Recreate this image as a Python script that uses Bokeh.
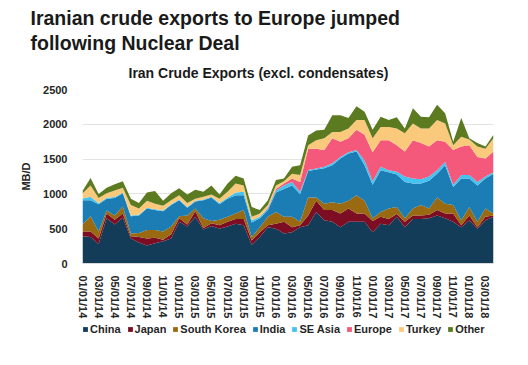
from bokeh.plotting import figure
from bokeh.layouts import column
from bokeh.models import Range1d, FixedTicker, Title, Legend, LegendItem, ColumnDataSource
from bokeh.embed import file_html
from bokeh.resources import INLINE

MONTHS = [
    "01/01/14", "02/01/14", "03/01/14", "04/01/14", "05/01/14", "06/01/14",
    "07/01/14", "08/01/14", "09/01/14", "10/01/14", "11/01/14", "12/01/14",
    "01/01/15", "02/01/15", "03/01/15", "04/01/15", "05/01/15", "06/01/15",
    "07/01/15", "08/01/15", "09/01/15", "10/01/15", "11/01/15", "12/01/15",
    "01/01/16", "02/01/16", "03/01/16", "04/01/16", "05/01/16", "06/01/16",
    "07/01/16", "08/01/16", "09/01/16", "10/01/16", "11/01/16", "12/01/16",
    "01/01/17", "02/01/17", "03/01/17", "04/01/17", "05/01/17", "06/01/17",
    "07/01/17", "08/01/17", "09/01/17", "10/01/17", "11/01/17", "12/01/17",
    "01/01/18", "02/01/18", "03/01/18", "04/01/18",
]

CHINA = [390, 380, 280, 650, 560, 660, 360, 300, 260, 290, 320, 360,
         600, 530, 670, 490, 540, 500, 530, 570, 550, 270, 380, 520,
         500, 430, 450, 520, 550, 740, 620, 600, 520, 600, 600, 600,
         450, 570, 550, 670, 520, 640, 640, 650, 690, 650, 600, 520,
         620, 500, 620, 670]
JAPAN = [70, 80, 80, 70, 70, 60, 30, 80, 100, 80, 20, 60,
         50, 30, 80, 20, 40, 50, 70, 70, 90, 60, 70, 30,
         70, 170, 70, 30, 140, 160, 150, 170, 200, 190, 120, 120,
         160, 100, 90, 40, 80, 50, 50, 50, 80, 70, 120, 30,
         70, 20, 50, 20]
SOUTH_KOREA = [100, 220, 100, 40, 60, 100, 40, 60, 120, 110, 120, 110,
               30, 130, 40, 140, 30, 80, 70, 80, 130, 50, 70, 120,
               170, 70, 150, 50, 260, 50, 90, 110, 140, 110, 260, 180,
               40, 70, 150, 100, 50, 100, 150, 90, 180, 140, 120, 70,
               120, 80, 120, 30]
INDIA = [350, 230, 390, 170, 250, 190, 250, 250, 310, 290, 290, 310,
         230, 110, 100, 260, 340, 220, 260, 260, 210, 210, 130, 100,
         280, 400, 450, 400, 380, 400, 510, 530, 650, 680, 630, 510,
         480, 600, 520, 470, 520, 360, 310, 400, 340, 550, 260, 600,
         410, 520, 430, 570]
SE_ASIA = [25, 50, 15, 15, 15, 10, 10, 10, 10, 10, 10, 10,
           10, 10, 10, 10, 10, 20, 20, 40, 50, 30, 20, 20,
           30, 50, 50, 30, 15, 15, 20, 30, 20, 20, 20, 70,
           50, 50, 30, 40, 80, 70, 60, 60, 50, 50, 30, 50,
           50, 50, 30, 20]
EUROPE = [0, 0, 0, 0, 0, 0, 0, 0, 0, 0, 0, 0,
          0, 0, 0, 0, 0, 0, 0, 0, 0, 0, 0, 10,
          20, 30, 50, 140, 305, 285, 240, 360, 220, 200, 290, 370,
          420, 380, 430, 380, 360, 550, 520, 430, 430, 290, 500, 410,
          430, 360, 260, 300]
TURKEY = [70, 160, 75, 65, 95, 70, 150, 90, 100, 80, 70, 60,
          60, 60, 30, 40, 30, 60, 80, 130, 90, 50, 50, 40,
          50, 30, 70, 100, 50, 120, 170, 90, 140, 140, 140, 210,
          200, 190, 190, 240, 260, 240, 210, 260, 290, 260, 70, 140,
          80, 150, 140, 190]
OTHER = [35, 110, 60, 80, 90, 90, 90, 80, 120, 180, 70, 100,
         100, 120, 130, 70, 130, 60, 120, 110, 100, 140, 50, 70,
         80, 40, 100, 140, 140, 140, 120, 240, 240, 150, 200, 120,
         120, 150, 100, 160, 70, 220, 170, 160, 220, 150, 50, 270,
         20, 50, 30, 50]

SERIES = ["China", "Japan", "South Korea", "India", "SE Asia", "Europe", "Turkey", "Other"]
COLORS = ["#123c58", "#7d0d22", "#9a6a12", "#1b7db3", "#45c3f0", "#f4587b", "#fbc97c", "#5c7a20"]
Y_TICKS = [0, 500, 1000, 1500, 2000, 2500]

FONT = "Liberation Sans"
TXT = "#262626"

data = {"x": list(range(len(MONTHS)))}
for name, vals in zip(SERIES, [CHINA, JAPAN, SOUTH_KOREA, INDIA, SE_ASIA, EUROPE, TURKEY, OTHER]):
    data[name] = vals
source = ColumnDataSource(data)

# ---- main chart ----
p = figure(frame_width=411, frame_height=174, output_backend="svg", toolbar_location=None,
           x_range=Range1d(0, len(MONTHS) - 1), y_range=Range1d(0, 2500),
           min_border_left=82, min_border_right=22, min_border_top=89, min_border_bottom=55)
p.outline_line_color = None
p.background_fill_color = "white"
p.border_fill_color = "white"

p.varea_stack(stackers=SERIES, x="x", color=COLORS, source=source)

p.xgrid.grid_line_color = None
p.ygrid.grid_line_color = "#e3e3e3"
p.ygrid.grid_line_width = 1

p.yaxis.ticker = FixedTicker(ticks=Y_TICKS)
p.yaxis.axis_line_color = None
p.yaxis.major_tick_line_color = None
p.yaxis.minor_tick_line_color = None
p.yaxis.major_label_text_font = FONT
p.yaxis.major_label_text_font_style = "bold"
p.yaxis.major_label_text_font_size = "11px"
p.yaxis.major_label_text_color = TXT
p.yaxis.major_label_standoff = 9
p.yaxis.axis_label = "MB/D"
p.yaxis.axis_label_text_font = FONT
p.yaxis.axis_label_text_font_style = "bold"
p.yaxis.axis_label_text_font_size = "11px"
p.yaxis.axis_label_text_color = TXT
p.yaxis.axis_label_standoff = 8

tick_idx = list(range(0, len(MONTHS), 2))
p.xaxis.ticker = FixedTicker(ticks=tick_idx)
p.xaxis.major_label_overrides = {i: MONTHS[i] for i in tick_idx}
p.xaxis.major_label_orientation = "vertical"
p.xaxis.axis_line_color = "#d9d9d9"
p.xaxis.major_tick_line_color = None
p.xaxis.minor_tick_line_color = None
p.xaxis.major_label_text_font = FONT
p.xaxis.major_label_text_font_style = "bold"
p.xaxis.major_label_text_font_size = "11px"
p.xaxis.major_label_text_color = TXT
p.xaxis.major_label_standoff = 6

t3 = Title(text="Iran Crude Exports (excl. condensates)", align="left", offset=46,
           text_font=FONT, text_font_style="bold", text_font_size="14px",
           text_color="#1a1a1a", standoff=17)
t2 = Title(text="following Nuclear Deal", align="left", offset=-52,
           text_font=FONT, text_font_style="bold", text_font_size="19.5px",
           text_color="#1a1a1a", standoff=2, text_line_height=1.0)
t1 = Title(text="Iranian crude exports to Europe jumped", align="left", offset=-52,
           text_font=FONT, text_font_style="bold", text_font_size="19.5px",
           text_color="#1a1a1a", standoff=0)
p.add_layout(t3, "above")
p.add_layout(t2, "above")
p.add_layout(t1, "above")

# ---- legend strip (same data, drawn through its own scales outside the view) ----
lf = figure(width=515, height=24, output_backend="svg", toolbar_location=None,
            x_axis_location=None, y_axis_location=None, min_border=0,
            x_range=Range1d(-100, -99), y_range=Range1d(0, 1))
lf.outline_line_color = None
lf.background_fill_color = "white"
lf.border_fill_color = "white"
lf.grid.visible = False
leg_renderers = lf.varea_stack(stackers=SERIES, x="x", color=COLORS, source=source)

legend = Legend(items=[LegendItem(label=n, renderers=[r]) for n, r in zip(SERIES, leg_renderers)],
                orientation="horizontal", location=(0, 10),
                glyph_width=6, glyph_height=6, label_standoff=2, spacing=6,
                padding=0, margin=0,
                label_text_font=FONT, label_text_font_style="bold",
                label_text_font_size="11px", label_text_color=TXT,
                border_line_color=None, background_fill_alpha=0)
lf.add_layout(legend, "center")

layout = column(p, lf, spacing=0)
open("out.html", "w").write(file_html(layout, INLINE))
